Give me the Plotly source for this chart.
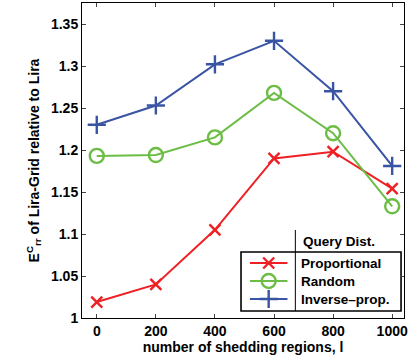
import plotly.graph_objects as go

# Number of shedding regions, l
regions = [0, 200, 400, 600, 800, 1000]

# E_rr^C of Lira-Grid relative to Lira, per query distribution
proportional = [1.019, 1.040, 1.105, 1.190, 1.198, 1.154]
random_dist = [1.193, 1.194, 1.215, 1.268, 1.220, 1.133]
inverse_prop = [1.230, 1.253, 1.302, 1.330, 1.270, 1.181]

series_names = ["Proportional", "Random", "Inverse\u2013prop."]
series_values = [proportional, random_dist, inverse_prop]
colors = ["#ee2024", "#6cbd45", "#3a54a5"]
symbols = ["x-thin", "circle-open", "cross-thin"]
sizes = [11, 14, 13]

x_ticks = [0, 200, 400, 600, 800, 1000]
y_ticks = [1, 1.05, 1.1, 1.15, 1.2, 1.25, 1.3, 1.35]
y_tick_text = ["1", "1.05", "1.1", "1.15", "1.2", "1.25", "1.3", "1.35"]

FONT = "Liberation Sans, Arial, sans-serif"

fig = go.Figure()

for name, vals, c, s, sz in zip(series_names, series_values, colors, symbols, sizes):
    fig.add_trace(go.Scatter(
        x=regions, y=vals, mode="lines+markers", name=name,
        line=dict(color=c, width=2),
        marker=dict(symbol=s, size=sz, color=c, line=dict(color=c, width=2.4)),
        showlegend=False, cliponaxis=False,
    ))

# Hand-built legend on a pixel-scaled overlay axis
legend_rows = [263, 281, 299]
for name, c, s, sz, yy in zip(series_names, colors, symbols, sizes, legend_rows):
    fig.add_trace(go.Scatter(
        x=[252, 271, 290], y=[yy, yy, yy], mode="lines",
        line=dict(color=c, width=2), xaxis="x2", yaxis="y2",
        showlegend=False, hoverinfo="skip", cliponaxis=False,
    ))
    fig.add_trace(go.Scatter(
        x=[271], y=[yy], mode="markers",
        marker=dict(symbol=s, size=sz, color=c, line=dict(color=c, width=2.4)),
        xaxis="x2", yaxis="y2", showlegend=False, hoverinfo="skip", cliponaxis=False,
    ))
    fig.add_annotation(
        x=302, y=yy, xref="x2", yref="y2", text="<b>%s</b>" % name,
        showarrow=False, xanchor="left", yanchor="middle",
        font=dict(family=FONT, size=13.5, color="black"),
    )

fig.add_annotation(
    x=304, y=241, xref="x2", yref="y2", text="<b>Query Dist.</b>",
    showarrow=False, xanchor="left", yanchor="middle",
    font=dict(family=FONT, size=13.5, color="black"),
)
fig.add_shape(type="rect", x0=243, x1=405, y0=252, y1=311, xref="x2", yref="y2",
              line=dict(color="black", width=1.6), fillcolor="white", layer="below")
fig.add_shape(type="line", x0=298, x1=298, y0=230, y1=311, xref="x2", yref="y2",
              line=dict(color="black", width=1))

fig.update_layout(
    width=408, height=360,
    margin=dict(l=82, r=0, t=3, b=42),
    paper_bgcolor="white", plot_bgcolor="white",
    font=dict(family=FONT, size=14, color="black"),
    xaxis=dict(
        range=[-50, 1040], tickvals=x_ticks, ticks="inside", ticklen=4,
        showline=True, linecolor="black", linewidth=1, mirror="ticks",
        showgrid=False, zeroline=False, ticklabeloverflow="allow",
        tickfont=dict(family=FONT, size=14, weight="bold"),
        title=dict(text="<b>number of shedding regions, l</b>", standoff=3,
                   font=dict(family=FONT, size=14)),
    ),
    yaxis=dict(
        range=[1, 1.375], tickvals=y_ticks, ticktext=y_tick_text,
        ticks="inside", ticklen=4,
        showline=True, linecolor="black", linewidth=1, mirror="ticks",
        showgrid=False, zeroline=False,
        tickfont=dict(family=FONT, size=14, weight="bold"),
        title=dict(text="<b>E<sup>C</sup><sub>rr</sub> of Lira-Grid relative to Lira</b>",
                   standoff=8, font=dict(family=FONT, size=14)),
    ),
    xaxis2=dict(range=[82, 408], overlaying="x", visible=False, fixedrange=True),
    yaxis2=dict(range=[318, 3], overlaying="y", visible=False, fixedrange=True),
)

fig.write_html("out.html")
